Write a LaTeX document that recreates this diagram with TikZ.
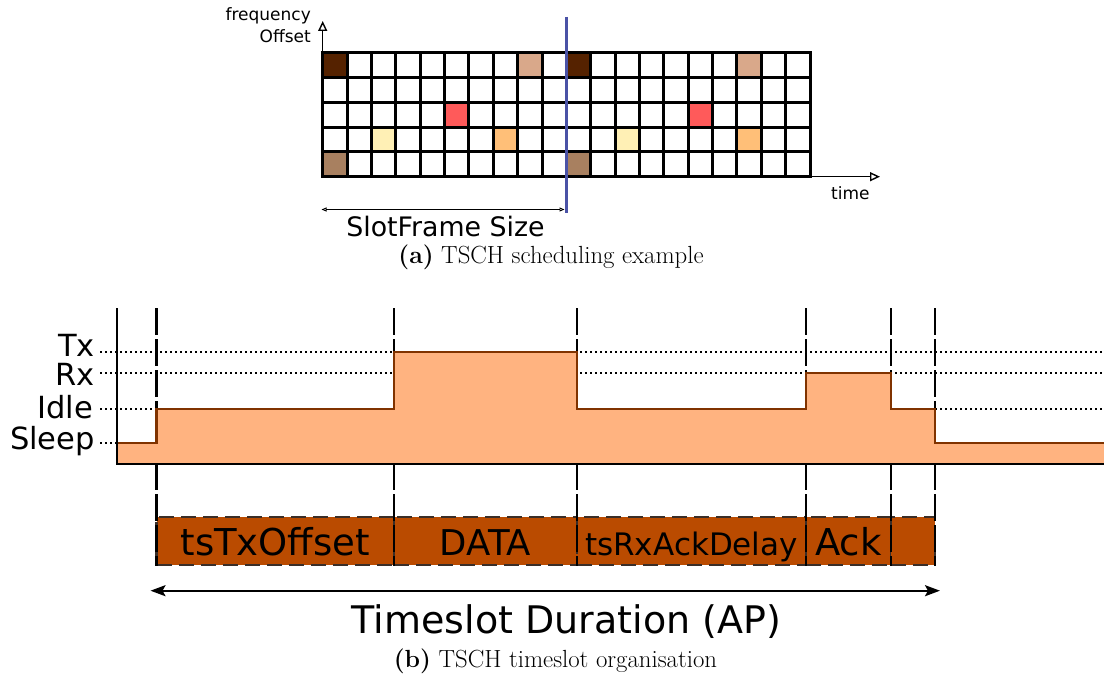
\documentclass[tikz,border=0pt]{standalone}
\usepackage{fontspec}
\newfontfamily\dv{DejaVu Sans}
\usetikzlibrary{arrows.meta}
\definecolor{cDark}{HTML}{552200}
\definecolor{cTan}{HTML}{D9A88A}
\definecolor{cRed}{HTML}{FF5A5A}
\definecolor{cYel}{HTML}{FFF0B5}
\definecolor{cOra}{HTML}{FFBF78}
\definecolor{cBrn}{HTML}{A88060}
\definecolor{cBlue}{HTML}{4A52A6}
\definecolor{cWave}{HTML}{FFB380}
\definecolor{cWaveLine}{HTML}{803300}
\definecolor{cBar}{HTML}{BA4B00}
\definecolor{cBarEdge}{HTML}{3A2E28}
\begin{document}
\begin{tikzpicture}[x=1pt,y=-1pt,
  gridline/.style={line width=3pt,black,line cap=rect},
  axisline/.style={line width=1.4pt,black,-{Triangle[open,length=10pt,width=9pt]}},
  sizearrow/.style={line width=0.8pt,black,{Triangle[open,length=5pt,width=4pt]}-{Triangle[open,length=5pt,width=4pt]}},
  smalltxt/.style={inner sep=0pt,font=\dv\fontsize{17}{20}\selectfont},
  leveltxt/.style={inner sep=0pt,font=\dv\fontsize{30.5}{34}\selectfont,anchor=base east},
  dotline/.style={line width=2pt,black,dash pattern=on 2pt off 3pt},
  vdash/.style={line width=2.4pt,black,dash pattern=on 27pt off 4pt},
  cellbox/.style={draw=cBarEdge,fill=cBar,line width=2.2pt,dash pattern=on 15pt off 7pt,
    inner sep=0pt,minimum height=48.3pt,text height=28pt,text depth=0pt},
  captxt/.style={inner sep=0pt,anchor=base,font=\fontsize{24.8}{30}\selectfont}]
\useasboundingbox (0,0) rectangle (1104,677);

% ---------- (a) scheduling grid ----------
\def\gx{322.7}\def\gw{24.37}\def\gy{52.7}\def\gh{24.8}
\foreach \c/\r/\col in {0/0/cDark,8/0/cTan,10/0/cDark,17/0/cTan,
                        5/2/cRed,15/2/cRed,
                        2/3/cYel,7/3/cOra,12/3/cYel,17/3/cOra,
                        0/4/cBrn,10/4/cBrn}
  \fill[\col] ({\gx+\c*\gw},{\gy+\r*\gh}) rectangle ++(\gw,\gh);
\foreach \i in {0,...,20}
  \draw[gridline] ({\gx+\i*\gw},\gy) -- ({\gx+\i*\gw},{\gy+5*\gh});
\foreach \j in {0,...,5}
  \draw[gridline] (\gx,{\gy+\j*\gh}) -- ({\gx+20*\gw},{\gy+\j*\gh});

\coordinate (O) at (322.7,176.7);
\coordinate (ytop) at (322.7,21);
\coordinate (xend) at (880,176.7);
\draw[axisline] (O) -- (ytop);
\draw[axisline] (O) -- (xend);

\node[smalltxt,anchor=base east] (freq) at (311,21) {frequency};
\node[smalltxt,anchor=base east] (offs) at (311,43) {Offset};
\node[smalltxt,anchor=base west] (time) at (831,199) {time};

\coordinate (bT) at (566.4,17);
\coordinate (bB) at (566.4,213);
\draw[cBlue,line width=3pt] (bT) -- (bB);

\coordinate (s1) at (321.5,209.5);
\coordinate (s2) at (564.5,209.5);
\draw[sizearrow] (s1) -- (s2);
\node[inner sep=0pt,anchor=base,font=\dv\fontsize{26.8}{32}\selectfont] (sfs) at (445.5,236.5) {SlotFrame Size};
\node[captxt] (capa) at (551,263) {\textbf{(a)} TSCH scheduling example};

% ---------- (b) timeslot organisation ----------
% bar cells
\node[cellbox,minimum width=237.5pt,font=\dv\fontsize{37}{40}\selectfont] (c1) at (275.25,541) {tsTxOffset};
\node[cellbox,minimum width=183pt,font=\dv\fontsize{35.5}{40}\selectfont] (c2) at (485.5,541) {DATA};
\node[cellbox,minimum width=229pt,font=\dv\fontsize{31}{36}\selectfont] (c3) at (691.5,541) {tsRxAckDelay};
\node[cellbox,minimum width=85pt,font=\dv\fontsize{37}{40}\selectfont] (c4) at (848.5,541) {Ack};
\node[cellbox,minimum width=44pt] (c5) at (913,541) {};

% vertical dashed markers
\foreach \x in {156.5,394,577,806,891,935}
  \draw[vdash] (\x,308) -- (\x,566);

% level labels and dotted guides
\node[leveltxt] (tx) at (95,356) {Tx};
\node[leveltxt] (rx) at (95,385) {Rx};
\node[leveltxt] (idle) at (93,418) {Idle};
\node[leveltxt] (sleep) at (95,449) {Sleep};
\draw[dotline] (100,351.7) -- (1104,351.7);
\draw[dotline] (100,373.3) -- (1104,373.3);
\draw[dotline] (100,409.3) -- (1104,409.3);
\draw[dotline] (100,443.3) -- (117,443.3);

% power waveform
\fill[cWave] (117,464) -- (117,443.3) -- (156.5,443.3) -- (156.5,409.3) -- (394,409.3) -- (394,351.7)
  -- (577,351.7) -- (577,409.3) -- (806,409.3) -- (806,373.3) -- (891,373.3) -- (891,409.3)
  -- (935,409.3) -- (935,443.3) -- (1104,443.3) -- (1104,464) -- cycle;
\draw[cWaveLine,line width=2.3pt] (117,443.3) -- (156.5,443.3) -- (156.5,409.3) -- (394,409.3) -- (394,351.7)
  -- (577,351.7) -- (577,409.3) -- (806,409.3) -- (806,373.3) -- (891,373.3) -- (891,409.3)
  -- (935,409.3) -- (935,443.3) -- (1104,443.3);

% axes of the power plot
\coordinate (pTop) at (117,308);
\coordinate (pO) at (117,464);
\coordinate (pEnd) at (1104,464);
\draw[black,line width=2.4pt] (pTop) -- (pO) -- (pEnd);

% timeslot duration
\coordinate (d1) at (150.5,590.7);
\coordinate (d2) at (940,590.7);
\draw[black,line width=2.2pt,{Stealth[length=15pt,width=11pt,inset=3pt]}-{Stealth[length=15pt,width=11pt,inset=3pt]}] (d1) -- (d2);
\node[inner sep=0pt,anchor=base,font=\dv\fontsize{38}{44}\selectfont] (tsd) at (566.5,633) {Timeslot Duration (AP)};
\node[captxt] (capb) at (555.5,667) {\textbf{(b)} TSCH timeslot organisation};
\end{tikzpicture}
\end{document}
